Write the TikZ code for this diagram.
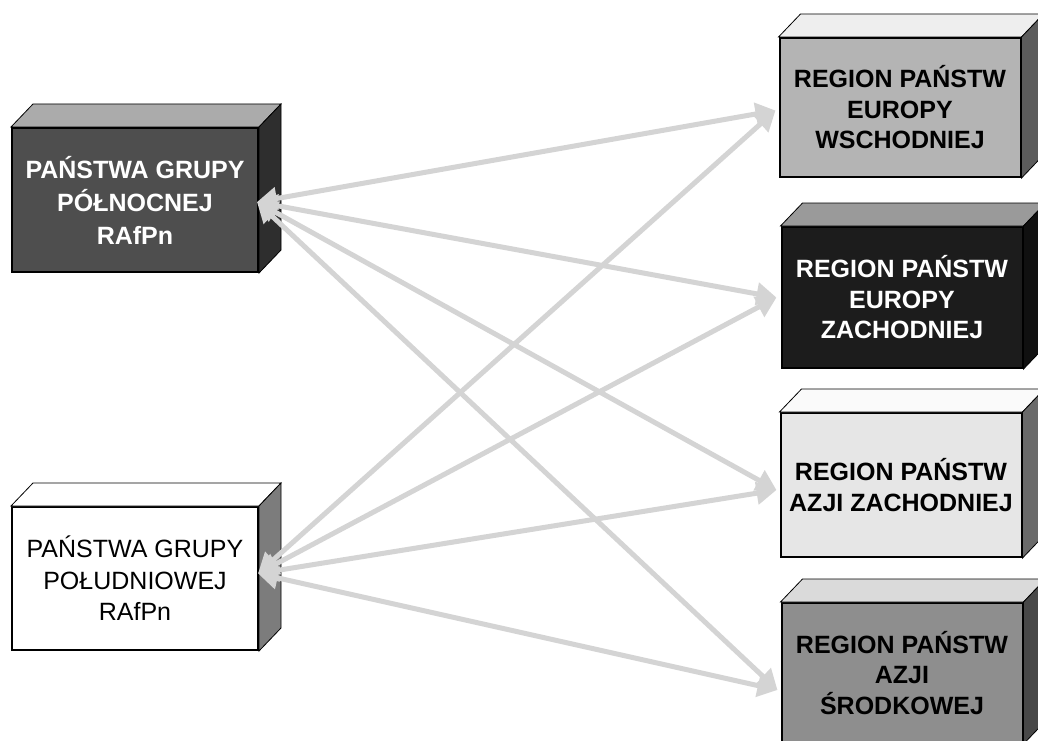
\documentclass[tikz,border=0pt]{standalone}
\usepackage{fontspec}
\setmainfont{Liberation Sans}
\usetikzlibrary{arrows.meta,calc}
\definecolor{cA}{HTML}{4E4E4E}
\definecolor{cAtop}{HTML}{ABABAB}
\definecolor{cAside}{HTML}{2E2E2E}
\definecolor{cBside}{HTML}{7C7C7C}
\definecolor{cOne}{HTML}{B4B4B4}
\definecolor{cOnetop}{HTML}{EEEEEE}
\definecolor{cOneside}{HTML}{5C5C5C}
\definecolor{cTwo}{HTML}{1C1C1C}
\definecolor{cTwotop}{HTML}{9A9A9A}
\definecolor{cTwoside}{HTML}{101010}
\definecolor{cThree}{HTML}{E6E6E6}
\definecolor{cThreetop}{HTML}{FAFAFA}
\definecolor{cThreeside}{HTML}{6A6A6A}
\definecolor{cFour}{HTML}{8E8E8E}
\definecolor{cFourtop}{HTML}{DADADA}
\definecolor{cFourside}{HTML}{484848}
\definecolor{linkgray}{HTML}{D4D4D4}
\newcommand\boxfaces[3]{%
  \filldraw[fill=#2,draw=black,line width=0.8pt] (#1.north west) -- ++(22,-23) -- ($(#1.north east)+(22,-23)$) -- (#1.north east) -- cycle;
  \filldraw[fill=#3,draw=black,line width=0.8pt] (#1.north east) -- ++(22,-23) -- ($(#1.south east)+(22,-23)$) -- (#1.south east) -- cycle;
}
\begin{document}
\begin{tikzpicture}[x=1pt,y=-1pt,
  front/.style={draw=black,line width=2pt,minimum width=241pt,minimum height=140pt,inner sep=0pt,align=center,text=black,font=\fontsize{25}{30.5}\selectfont\bfseries},
  link/.style={draw=linkgray,line width=5pt,{Triangle[length=20pt,width=22pt,fill=linkgray]}-{Triangle[length=20pt,width=22pt,fill=linkgray]}},
]
\useasboundingbox (0,0) rectangle (1038,741);
\clip (0,0) rectangle (1038,741);
\fill[white] (0,0) rectangle (1038,741);

\node[front,fill=cA,text=white,minimum width=246pt,minimum height=144pt,font=\fontsize{25}{33}\selectfont\bfseries] (nA) at (135,200) {PAŃSTWA GRUPY\\PÓŁNOCNEJ\\RAfPn};
\boxfaces{nA}{cAtop}{cAside}
\node[front,fill=white,minimum width=246pt,minimum height=143pt,font=\fontsize{25}{31.5}\selectfont] (nB) at (135,578.5) {PAŃSTWA GRUPY\\POŁUDNIOWEJ\\RAfPn};
\boxfaces{nB}{white}{cBside}

\node[front,fill=cOne,minimum height=139pt] (r1) at (900,107.5) {REGION PAŃSTW\\EUROPY\\WSCHODNIEJ};
\boxfaces{r1}{cOnetop}{cOneside}
\node[front,fill=cTwo,text=white,minimum height=141pt] (r2) at (902,297.5) {REGION PAŃSTW\\EUROPY\\ZACHODNIEJ};
\boxfaces{r2}{cTwotop}{cTwoside}
\node[front,fill=cThree,minimum height=144pt] (r3) at (901,485) {REGION PAŃSTW\\AZJI ZACHODNIEJ};
\boxfaces{r3}{cThreetop}{cThreeside}
\node[front,fill=cFour] (r4) at (902,673) {REGION PAŃSTW\\AZJI\\ŚRODKOWEJ};
\boxfaces{r4}{cFourtop}{cFourside}

\coordinate (pA) at ($(nA.east)+(-2,2)$);
\coordinate (pB) at ($(nB.east)+(-1,-5)$);
\coordinate (q1) at ($(r1.west)+(-3,3)$);
\coordinate (q2) at ($(r2.west)+(-4,0)$);
\coordinate (q3) at ($(r3.west)+(-3,5)$);
\coordinate (q4) at ($(r4.west)+(-3,17)$);

\foreach \q in {q1,q2,q3,q4}{
  \draw[link] (pA) -- (\q);
  \draw[link] (pB) -- (\q);
}
\end{tikzpicture}
\end{document}
